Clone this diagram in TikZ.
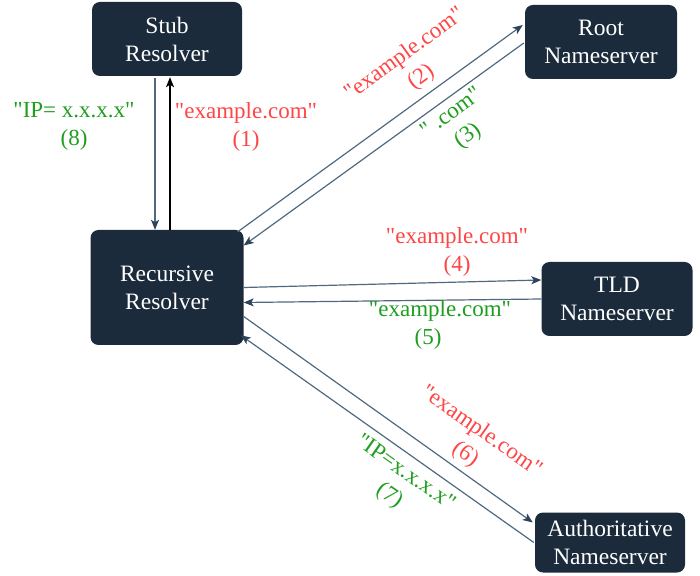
\documentclass[tikz,border=0pt]{standalone}
\usepackage{fontspec}
\setmainfont{Liberation Serif}[Ligatures=TeXOff]
\usetikzlibrary{arrows.meta,calc}
\definecolor{navy}{HTML}{1B2B3C}
\definecolor{lnk}{HTML}{4F6A80}
\definecolor{tip}{HTML}{2C435B}
\definecolor{qred}{HTML}{FF4545}
\definecolor{agreen}{HTML}{1E9E1E}
\begin{document}
\begin{tikzpicture}[x=1pt,y=1pt,
 srv/.style={draw=none,fill=navy,rounded corners=8pt,text=white,align=center,font=\fontsize{23.5}{28}\selectfont,inner sep=0pt},
 conn/.style={draw=lnk,line width=1.2pt,-{Stealth[length=10pt,width=8pt,inset=2.5pt,color=tip]}},
 lbl/.style={align=center,font=\fontsize{23}{28}\selectfont,inner sep=0pt},
 red/.style={lbl,text=qred},
 grn/.style={lbl,text=agreen},
]
\useasboundingbox (0,0) rectangle (700,575);
\node[srv,minimum width=150pt,minimum height=74pt] (stub) at (167,536) {Stub\\Resolver};
\node[srv,minimum width=152pt,minimum height=74pt] (root) at (601,533) {Root\\Nameserver};
\node[srv,minimum width=153pt,minimum height=115pt] (rec) at (167,287.5) {Recursive\\Resolver};
\node[srv,minimum width=151pt,minimum height=74pt] (tld) at (617,276) {TLD\\Nameserver};
\node[srv,minimum width=150pt,minimum height=60pt] (auth) at (610,32.5) {Authoritative\\Nameserver};

\draw[conn] ($(stub.south)+(-12,-2)$) -- ($(rec.north)+(-12,0)$);
\draw[conn,draw=black,-{Stealth[length=10pt,width=8pt,inset=2.5pt,color=black]}] ($(rec.north)+(3,0)$) -- ($(stub.south)+(3,-1)$);
\draw[conn] ($(rec.north east)+(-6,-2)$) -- ($(root.west)+(-2,17)$);
\draw[conn] ($(root.west)+(-1,-1)$) -- ($(rec.east)+(0,42)$);
\draw[conn] (rec.east) -- ($(tld.west)+(0,19)$);
\draw[conn] (tld.west) -- ($(rec.east)+(0,-15)$);
\draw[conn] ($(rec.east)+(0,-29)$) -- ($(auth.west)+(-2,20)$);
\draw[conn] ($(auth.west)+(-1,0)$) -- ($(rec.south east)+(-3,10)$);

\node[grn] (l8) at (74,449) {"IP= x.x.x.x"\\(8)};
\node[red] (l1) at (246,448) {"example.com"\\(1)};
\node[red,rotate=36] (l2) at (413,509) {"example.com"\\(2)};
\node[grn,rotate=36] (l3) at (460,450) {"\ .com"\\(3)};
\node[red] (l4) at (457,323) {"example.com"\\(4)};
\node[grn] (l5) at (440,250) {"example.com"\\\hspace*{-24pt}(5)};
\node[red,rotate=-35] (l6) at (473,132) {"example.com"\\(6)};
\node[grn,rotate=-35] (l7) at (397,90) {"IP=x.x.x.x"\\(7)};
\end{tikzpicture}
\end{document}
